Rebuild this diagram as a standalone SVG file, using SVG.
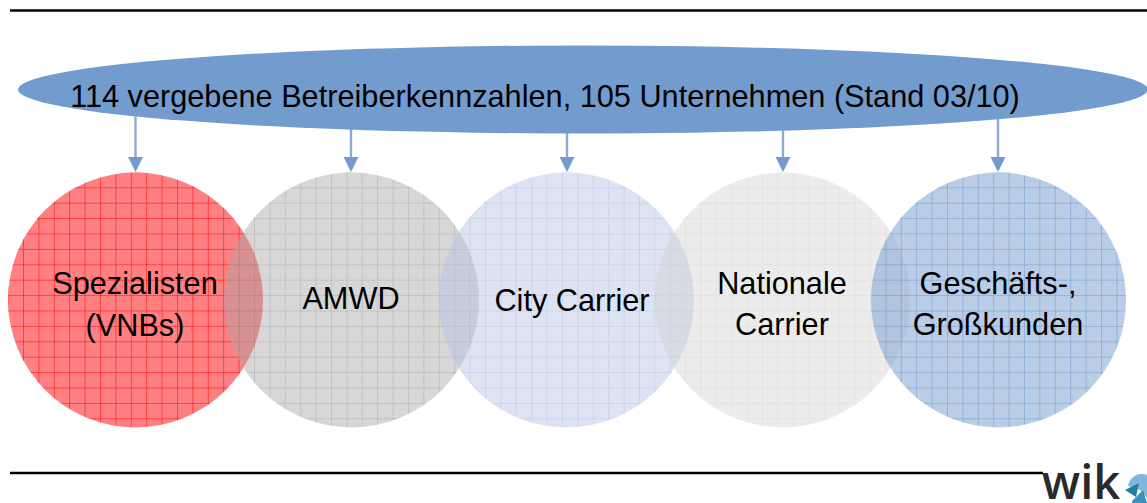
<svg xmlns="http://www.w3.org/2000/svg" width="1147" height="503" viewBox="0 0 1147 503">
<style>
text{font-family:"Liberation Sans",Arial,sans-serif;font-size:30.700px;fill:#000;text-anchor:middle}
.rule{stroke:#000;stroke-width:2.600;fill:none}
.conn{stroke:#8eabd6;stroke-width:2.400;fill:none}
.head{fill:#739cce}
</style>
<defs>
<pattern id="gr" patternUnits="userSpaceOnUse" x="7.600" y="2.500" width="15.400" height="15.400"><path d="M0 0H15.400M0 0V15.400" fill="none" stroke="#ff0000" stroke-width="1"/></pattern>
<pattern id="gg" patternUnits="userSpaceOnUse" x="7.600" y="2.500" width="15.400" height="15.400"><path d="M0 0H15.400M0 0V15.400" fill="none" stroke="#a6a6a6" stroke-width="1" stroke-opacity=".85"/></pattern>
<pattern id="gl" patternUnits="userSpaceOnUse" x="7.600" y="2.500" width="15.400" height="15.400"><path d="M0 0H15.400M0 0V15.400" fill="none" stroke="#b4c2e2" stroke-width="1" stroke-opacity=".85"/></pattern>
<pattern id="gw" patternUnits="userSpaceOnUse" x="7.600" y="2.500" width="15.400" height="15.400"><path d="M0 0H15.400M0 0V15.400" fill="none" stroke="#d8d8d8" stroke-width="1" stroke-opacity=".85"/></pattern>
<pattern id="gb" patternUnits="userSpaceOnUse" x="7.600" y="2.500" width="15.400" height="15.400"><path d="M0 0H15.400M0 0V15.400" fill="none" stroke="#6d9ad0" stroke-width="1"/></pattern>
</defs>
<path class="rule" d="M10 10.500H1147"/>
<path class="rule" d="M10 473H1043"/>
<g id="connectors">
<path class="conn" d="M135.500 116V158"/><path class="head" d="M128 157H143L135.500 172Z"/>
<path class="conn" d="M351 128V158"/><path class="head" d="M343.500 157H358.500L351 172Z"/>
<path class="conn" d="M567 130V158"/><path class="head" d="M559.500 157H574.500L567 172Z"/>
<path class="conn" d="M783 128V158"/><path class="head" d="M775.500 157H790.500L783 172Z"/>
<path class="conn" d="M998 118V158"/><path class="head" d="M990.500 157H1005.500L998 172Z"/>
</g>
<g id="top"><ellipse cx="583" cy="89.500" rx="565" ry="44" fill="#739cce"/><text x="545" y="106.500">114 vergebene Betreiberkennzahlen, 105 Unternehmen (Stand 03/10)</text></g>
<g id="n1"><circle cx="135.500" cy="300" r="127.500" fill="#ff8082"/><circle cx="135.500" cy="300" r="127.500" fill="url(#gr)"/><text x="135" y="293.500">Spezialisten</text><text x="135" y="335.500">(VNBs)</text></g>
<g id="n2"><circle cx="351.500" cy="300" r="127.500" fill="#a6a6a6" fill-opacity=".45"/><circle cx="351.500" cy="300" r="127.500" fill="url(#gg)"/><text x="351" y="308.500">AMWD</text></g>
<g id="n3"><circle cx="566.500" cy="300" r="127.500" fill="#b4c2e2" fill-opacity=".45"/><circle cx="566.500" cy="300" r="127.500" fill="url(#gl)"/><text x="572" y="310.500">City Carrier</text></g>
<g id="n4"><circle cx="782.500" cy="300" r="127.500" fill="#d0d0d0" fill-opacity=".4"/><circle cx="782.500" cy="300" r="127.500" fill="url(#gw)"/><text x="782" y="293.500">Nationale</text><text x="782" y="334.500">Carrier</text></g>
<g id="n5"><circle cx="998.500" cy="300" r="127.500" fill="#739cce" fill-opacity=".5"/><circle cx="998.500" cy="300" r="127.500" fill="url(#gb)"/><text x="998" y="293.500">Geschäfts-,</text><text x="998" y="334.500">Großkunden</text></g>
<g id="logo"><text x="1081" y="499" style="font-family:'Open Sans',sans-serif;font-size:47px;font-weight:600;fill:#2a2a2a">wik</text>
<path d="M1128 486A14 14 0 0 1 1147 475V498L1140 490Z" fill="#7fb6dd"/><path d="M1125 490L1139 483L1136 497Z" fill="#1f7f9f"/><path d="M1132 501L1143 490L1147 503H1132Z" fill="#3a93bd"/></g>
</svg>
